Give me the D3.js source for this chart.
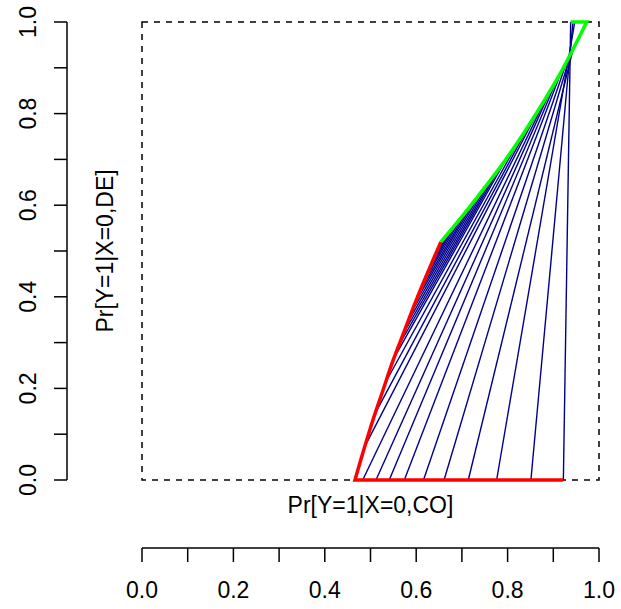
<!DOCTYPE html>
<html>
<head>
<meta charset="utf-8">
<script src="https://cdn.jsdelivr.net/npm/d3@7"></script>
<style>
  body { margin: 0; background: #fff; }
  text { font-family: "Liberation Sans", Arial, sans-serif; }
</style>
</head>
<body>
<div id="chart"></div>
<script>
// segment end points (lower end on the red edge, upper end on the green edge)
const lowX  = [0.650, 0.641, 0.632, 0.624, 0.615, 0.606, 0.597, 0.588, 0.579, 0.570, 0.561, 0.552,
               0.534, 0.510, 0.486,
               0.483, 0.512, 0.541, 0.574, 0.616, 0.661, 0.714, 0.776, 0.851, 0.922];
const lowY  = [0.510, 0.490, 0.470, 0.450, 0.430, 0.408, 0.386, 0.363, 0.340, 0.316, 0.292, 0.267,
               0.215, 0.145, 0.070,
               0, 0, 0, 0, 0, 0, 0, 0, 0, 0];
const highX = [0.660, 0.669, 0.679, 0.689, 0.701, 0.714, 0.727, 0.741, 0.756, 0.771, 0.786, 0.801,
               0.824, 0.847, 0.866,
               0.882, 0.896, 0.908, 0.919, 0.929, 0.937, 0.943, 0.947, 0.943, 0.938];
const highY = [0.527, 0.537, 0.549, 0.562, 0.576, 0.592, 0.609, 0.627, 0.646, 0.666, 0.687, 0.708,
               0.740, 0.775, 0.805,
               0.830, 0.855, 0.875, 0.895, 0.912, 0.927, 0.940, 1, 1, 1];

// red and green edges
const redX   = [0.654, 0.626, 0.599, 0.574, 0.549, 0.527, 0.505, 0.485, 0.466];
const redY   = [0.520, 0.455, 0.390, 0.325, 0.260, 0.195, 0.130, 0.065, 0];
const redBottomEnd = 0.922;
const greenX = [0.654, 0.704, 0.751, 0.796, 0.837, 0.875, 0.911, 0.943, 0.973];
const greenY = [0.520, 0.580, 0.640, 0.700, 0.760, 0.820, 0.880, 0.940, 1.0];
const greenTopEnd = 0.938;

const ticks = [0, 0.1, 0.2, 0.3, 0.4, 0.5, 0.6, 0.7, 0.8, 0.9, 1.0];
const tickLabels = ["0.0", "0.2", "0.4", "0.6", "0.8", "1.0"];

const width = 621, height = 609;
const svg = d3.select("#chart").append("svg")
    .attr("width", width)
    .attr("height", height);

const x = d3.scaleLinear().domain([0, 1]).range([142, 599]);
const y = d3.scaleLinear().domain([0, 1]).range([480, 22]);

// dashed frame of the unit square
svg.append("rect")
    .attr("x", x(0))
    .attr("y", y(1))
    .attr("width", x(1) - x(0))
    .attr("height", y(0) - y(1))
    .attr("fill", "none")
    .attr("stroke", "#000")
    .attr("stroke-width", 1.5)
    .attr("stroke-dasharray", "6,6");

// blue segments
svg.append("g").selectAll("line")
    .data(lowX.map((d, i) => i))
    .enter().append("line")
    .attr("x1", i => x(lowX[i]))
    .attr("y1", i => y(lowY[i]))
    .attr("x2", i => x(highX[i]))
    .attr("y2", i => y(highY[i]))
    .attr("stroke", "#00008B")
    .attr("stroke-width", 1.4);

const curve = d3.line()
    .x(d => x(d[0]))
    .y(d => y(d[1]))
    .curve(d3.curveCatmullRom);

const redPts = redX.map((d, i) => [d, redY[i]]);
const greenPts = greenX.map((d, i) => [d, greenY[i]]);

svg.append("path")
    .attr("d", curve(redPts) + "L" + x(redBottomEnd) + "," + y(0))
    .attr("fill", "none")
    .attr("stroke", "#FF0000")
    .attr("stroke-width", 3.5);

svg.append("path")
    .attr("d", curve(greenPts) + "L" + x(greenTopEnd) + "," + y(1))
    .attr("fill", "none")
    .attr("stroke", "#00FF00")
    .attr("stroke-width", 3.5);

// X axis (offset below the plot, R style)
const xAxis = svg.append("g").attr("transform", "translate(0,548)");
xAxis.append("line")
    .attr("x1", x(0)).attr("x2", x(1))
    .attr("stroke", "#000").attr("stroke-width", 1.5);
xAxis.selectAll(".tick")
    .data(ticks)
    .enter().append("line")
    .attr("x1", d => x(d)).attr("x2", d => x(d))
    .attr("y1", 0).attr("y2", 14)
    .attr("stroke", "#000").attr("stroke-width", 1.5);
xAxis.selectAll("text")
    .data(tickLabels)
    .enter().append("text")
    .attr("x", d => x(+d))
    .attr("y", 50)
    .attr("text-anchor", "middle")
    .attr("font-size", 23)
    .text(d => d);

// Y axis
const yAxis = svg.append("g").attr("transform", "translate(67,0)");
yAxis.append("line")
    .attr("y1", y(0)).attr("y2", y(1))
    .attr("stroke", "#000").attr("stroke-width", 1.5);
yAxis.selectAll(".tick")
    .data(ticks)
    .enter().append("line")
    .attr("y1", d => y(d)).attr("y2", d => y(d))
    .attr("x1", 0).attr("x2", -13)
    .attr("stroke", "#000").attr("stroke-width", 1.5);
yAxis.selectAll("text")
    .data(tickLabels)
    .enter().append("text")
    .attr("transform", d => `translate(-31,${y(+d)}) rotate(-90)`)
    .attr("text-anchor", "middle")
    .attr("font-size", 23)
    .text(d => d);

// axis titles
svg.append("text")
    .attr("x", x(0.5))
    .attr("y", 513)
    .attr("text-anchor", "middle")
    .attr("font-size", 23)
    .text("Pr[Y=1|X=0,CO]");

svg.append("text")
    .attr("transform", `translate(113,${y(0.5)}) rotate(-90)`)
    .attr("text-anchor", "middle")
    .attr("font-size", 23)
    .text("Pr[Y=1|X=0,DE]");
</script>
</body>
</html>
